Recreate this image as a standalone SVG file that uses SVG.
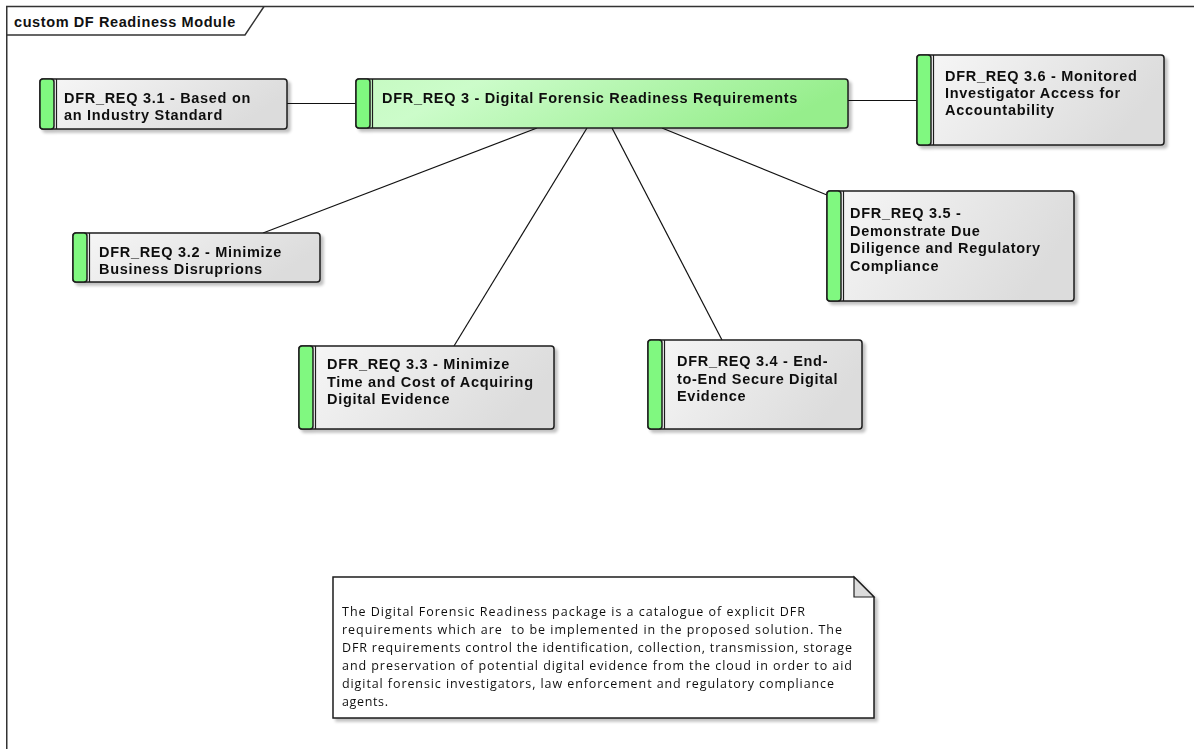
<svg xmlns="http://www.w3.org/2000/svg" width="1194" height="749" viewBox="0 0 1194 749">
  <defs>
    <linearGradient id="reqFill" x1="0" y1="0" x2="1" y2="0.3">
      <stop offset="0" stop-color="#f7f7f7"/>
      <stop offset="1" stop-color="#dcdcdc"/>
    </linearGradient>
    <linearGradient id="rootFill" x1="0" y1="0" x2="1" y2="0.2">
      <stop offset="0" stop-color="#c6fac2"/>
      <stop offset="0.25" stop-color="#ccfcca"/>
      <stop offset="1" stop-color="#96ee8c"/>
    </linearGradient>
    <filter id="shadow" x="-5%" y="-10%" width="115%" height="130%">
      <feGaussianBlur in="SourceAlpha" stdDeviation="1.4"/>
      <feOffset dx="3" dy="3" result="b"/>
      <feComponentTransfer><feFuncA type="linear" slope="0.25"/></feComponentTransfer>
      <feMerge><feMergeNode/><feMergeNode in="SourceGraphic"/></feMerge>
    </filter>
    <!-- requirement element: gradient body, green stripe, double divider -->
    <style>
      .body { fill: url(#reqFill); stroke: #1e1e1e; stroke-width: 1.5; }
      .root .body { fill: url(#rootFill); }
      .bar { fill: #80f880; stroke: #1e1e1e; stroke-width: 1.5; }
      .div { stroke: #1e1e1e; stroke-width: 1.2; fill: none; }
      .lbl { font-family: "Liberation Sans", Arial, sans-serif; font-weight: bold; font-size: 14.5px; letter-spacing: 0.7px; fill: #111; }
      .conn line { stroke: #111; stroke-width: 1.2; }
      .note { fill: #fff; stroke: #1e1e1e; stroke-width: 1.5; }
      .fold { fill: #dcdcdc; stroke: #1e1e1e; stroke-width: 1.2; }
      .ntxt { font-family: "Open Sans", "Noto Sans", sans-serif; font-size: 12.5px; fill: #111; white-space: pre; }
      .frame { fill: none; stroke: #333; stroke-width: 1.5; }
      .title { font-family: "Liberation Sans", Arial, sans-serif; font-weight: bold; font-size: 14.5px; letter-spacing: 0.6px; fill: #111; }
    </style>
  </defs>

  <rect width="1194" height="749" fill="#fff"/>

  <!-- package frame with name tab -->
  <g id="frame">
    <path class="frame" d="M6.75,760 V6.5 H1200"/>
    <path class="frame" d="M6.75,35 H245 L264,6.5"/>
    <text class="title" x="14" y="26.5">custom DF Readiness Module</text>
  </g>

  <!-- connectors -->
  <g id="connectors" class="conn">
    <line x1="287" y1="103.5" x2="356" y2="103.5"/>
    <line x1="848" y1="100.5" x2="917" y2="100.5"/>
    <line x1="537" y1="128" x2="263" y2="233"/>
    <line x1="587" y1="128" x2="454" y2="346"/>
    <line x1="612" y1="128" x2="722" y2="340"/>
    <line x1="662" y1="128" x2="827" y2="195"/>
  </g>

  <g id="req-3" class="root" filter="url(#shadow)">
    <rect class="body" x="356" y="79" width="492" height="49" rx="3"/>
    <rect class="bar" x="356" y="79" width="14" height="49" rx="3"/>
    <line class="div" x1="372.5" y1="79" x2="372.5" y2="128"/>
    <text class="lbl" x="382" y="103">DFR_REQ 3 - Digital Forensic Readiness Requirements</text>
  </g>

  <g id="req-3-1" filter="url(#shadow)">
    <rect class="body" x="40" y="79" width="247" height="50" rx="3"/>
    <rect class="bar" x="40" y="79" width="14" height="50" rx="3"/>
    <line class="div" x1="56.5" y1="79" x2="56.5" y2="129"/>
    <text class="lbl" x="64" y="103">DFR_REQ 3.1 - Based on</text>
    <text class="lbl" x="64" y="120">an Industry Standard</text>
  </g>

  <g id="req-3-6" filter="url(#shadow)">
    <rect class="body" x="917" y="55" width="247" height="90" rx="3"/>
    <rect class="bar" x="917" y="55" width="14" height="90" rx="3"/>
    <line class="div" x1="933.5" y1="55" x2="933.5" y2="145"/>
    <text class="lbl" x="945" y="81">DFR_REQ 3.6 - Monitored</text>
    <text class="lbl" x="945" y="98">Investigator Access for</text>
    <text class="lbl" x="945" y="115">Accountability</text>
  </g>

  <g id="req-3-2" filter="url(#shadow)">
    <rect class="body" x="73" y="233" width="247" height="49" rx="3"/>
    <rect class="bar" x="73" y="233" width="14" height="49" rx="3"/>
    <line class="div" x1="89.5" y1="233" x2="89.5" y2="282"/>
    <text class="lbl" x="99" y="257">DFR_REQ 3.2 - Minimize</text>
    <text class="lbl" x="99" y="274">Business Disruprions</text>
  </g>

  <g id="req-3-3" filter="url(#shadow)">
    <rect class="body" x="299" y="346" width="255" height="83" rx="3"/>
    <rect class="bar" x="299" y="346" width="14" height="83" rx="3"/>
    <line class="div" x1="315.5" y1="346" x2="315.5" y2="429"/>
    <text class="lbl" x="327" y="369">DFR_REQ 3.3 - Minimize</text>
    <text class="lbl" x="327" y="386.5">Time and Cost of Acquiring</text>
    <text class="lbl" x="327" y="404">Digital Evidence</text>
  </g>

  <g id="req-3-4" filter="url(#shadow)">
    <rect class="body" x="648" y="340" width="214" height="89" rx="3"/>
    <rect class="bar" x="648" y="340" width="14" height="89" rx="3"/>
    <line class="div" x1="664.5" y1="340" x2="664.5" y2="429"/>
    <text class="lbl" x="677" y="366">DFR_REQ 3.4 - End-</text>
    <text class="lbl" x="677" y="383.5">to-End Secure Digital</text>
    <text class="lbl" x="677" y="401">Evidence</text>
  </g>

  <g id="req-3-5" filter="url(#shadow)">
    <rect class="body" x="827" y="191" width="247" height="110" rx="3"/>
    <rect class="bar" x="827" y="191" width="14" height="110" rx="3"/>
    <line class="div" x1="843.5" y1="191" x2="843.5" y2="301"/>
    <text class="lbl" x="850" y="218">DFR_REQ 3.5 -</text>
    <text class="lbl" x="850" y="235.5">Demonstrate Due</text>
    <text class="lbl" x="850" y="253">Diligence and Regulatory</text>
    <text class="lbl" x="850" y="270.5">Compliance</text>
  </g>

  <!-- description note with folded corner -->
  <g id="note" filter="url(#shadow)">
    <path class="note" d="M333,577 H854 L874,597 V718 H333 Z"/>
    <path class="fold" d="M854,577 V597 H874 Z"/>
    <text class="ntxt" x="342" y="616" textLength="463" lengthAdjust="spacing">The Digital Forensic Readiness package is a catalogue of explicit DFR</text>
    <text class="ntxt" x="342" y="634" textLength="500" lengthAdjust="spacing">requirements which are  to be implemented in the proposed solution. The</text>
    <text class="ntxt" x="342" y="652" textLength="510" lengthAdjust="spacing">DFR requirements control the identification, collection, transmission, storage</text>
    <text class="ntxt" x="342" y="670" textLength="510" lengthAdjust="spacing">and preservation of potential digital evidence from the cloud in order to aid</text>
    <text class="ntxt" x="342" y="688" textLength="492" lengthAdjust="spacing">digital forensic investigators, law enforcement and regulatory compliance</text>
    <text class="ntxt" x="342" y="706" textLength="46" lengthAdjust="spacing">agents.</text>
  </g>
</svg>
